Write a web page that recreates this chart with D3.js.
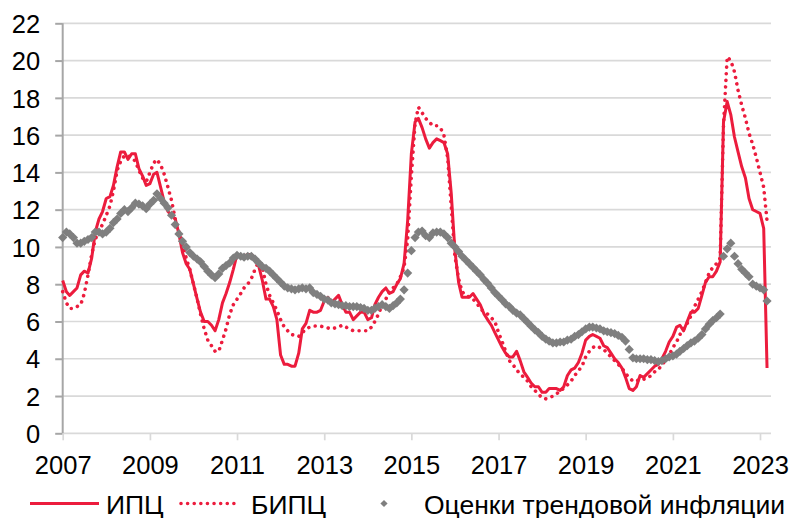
<!DOCTYPE html>
<html>
<head>
<meta charset="utf-8">
<script src="https://cdn.jsdelivr.net/npm/d3@7"></script>
<style>
  html, body { margin: 0; padding: 0; background: #fff; }
</style>
</head>
<body>
<div id="chart"></div>
<script>
// monthly values, Jan 2007 .. Mar 2023, % y/y
const firstMonth = new Date(2007, 0, 1);
const endMonth = new Date(2023, 3, 1);

const cpi = [
  8.2, 7.6, 7.4, 7.6, 7.8, 8.5, 8.7, 8.6, 9.4, 10.8, 11.5, 11.9,
  12.6, 12.7, 13.3, 14.3, 15.1, 15.1, 14.7, 15.0, 15.0, 14.2, 13.8, 13.3,
  13.4, 13.9, 14.0, 13.2, 12.4, 11.9, 11.7, 11.5, 10.7, 9.7, 9.1, 8.8,
  8.0, 7.2, 6.5, 6.0, 6.0, 5.8, 5.5, 6.1, 7.0, 7.5, 8.1, 8.8,
  9.6, 9.5, 9.5, 9.6, 9.6, 9.4, 9.0, 8.2, 7.2, 7.2, 6.8, 6.1,
  4.2, 3.7, 3.7, 3.6, 3.6, 4.3, 5.6, 5.9, 6.6, 6.5, 6.5, 6.6,
  7.1, 7.3, 7.0, 7.2, 7.4, 6.9, 6.5, 6.5, 6.1, 6.3, 6.5, 6.5,
  6.1, 6.2, 6.9, 7.3, 7.6, 7.8, 7.5, 7.6, 8.0, 8.3, 9.1, 11.4,
  15.0, 16.7, 16.9, 16.4, 15.8, 15.3, 15.6, 15.8, 15.7, 15.6, 15.0, 12.9,
  9.8, 8.1, 7.3, 7.3, 7.3, 7.5, 7.2, 6.9, 6.4, 6.1, 5.8, 5.4,
  5.0, 4.6, 4.3, 4.1, 4.1, 4.4, 3.9, 3.3, 3.0, 2.7, 2.5, 2.5,
  2.2, 2.2, 2.4, 2.4, 2.4, 2.3, 2.5, 3.1, 3.4, 3.5, 3.8, 4.3,
  5.0, 5.2, 5.3, 5.2, 5.1, 4.7, 4.6, 4.3, 4.0, 3.8, 3.5, 3.0,
  2.4, 2.3, 2.5, 3.1, 3.0, 3.2, 3.4, 3.6, 3.7, 4.0, 4.4, 4.9,
  5.2, 5.7, 5.8, 5.5, 6.0, 6.5, 6.5, 6.7, 7.4, 8.1, 8.4, 8.4,
  8.7, 9.2, 16.7, 17.8, 17.1, 15.9, 15.1, 14.3, 13.7, 12.6, 12.0, 11.9,
  11.8, 11.0, 3.5
];

const coreCpi = [
  7.6, 7.0, 6.7, 6.7, 6.8, 6.9, 7.5, 8.5, 9.6, 10.4, 10.9, 11.2,
  11.7, 12.2, 13.0, 14.1, 14.6, 14.9, 14.9, 14.8, 14.6, 14.1, 13.7, 13.5,
  14.0, 14.5, 14.7, 14.4, 13.9, 13.2, 12.5, 11.5, 10.8, 10.2, 9.4, 8.8,
  8.0, 7.2, 6.4, 5.6, 5.0, 4.7, 4.4, 4.4, 5.0, 5.6, 6.4, 6.9,
  7.2, 7.5, 7.8, 8.0, 8.3, 8.8, 9.2, 8.9, 8.0, 7.4, 7.0, 6.6,
  6.1, 5.7, 5.5, 5.3, 5.25, 5.2, 5.4, 5.6, 5.7, 5.75, 5.76, 5.75,
  5.7, 5.65, 5.6, 5.65, 5.7, 5.8, 5.7, 5.6, 5.5, 5.5, 5.5, 5.5,
  5.5, 5.7, 6.0, 6.4, 6.9, 7.2, 7.6, 7.8, 8.0, 8.4, 8.9, 10.4,
  13.8, 16.6, 17.5, 17.2, 16.9, 16.7, 16.5, 16.5, 16.4, 16.0, 14.8, 12.2,
  9.5, 8.3, 7.6, 7.4, 7.3, 7.2, 7.0, 6.7, 6.5, 6.4, 6.2, 6.0,
  5.4, 4.9, 4.4, 3.9, 3.7, 3.4, 3.2, 3.0, 2.8, 2.5, 2.3, 2.1,
  1.9, 1.85, 1.9, 2.0, 2.1, 2.3, 2.4, 2.6, 2.8, 3.1, 3.35, 3.6,
  4.1, 4.4, 4.6, 4.7, 4.6, 4.5, 4.3, 4.1, 3.9, 3.7, 3.5, 3.2,
  3.0, 2.8, 2.8, 2.9, 2.9, 2.95, 3.1, 3.3, 3.4, 3.7, 3.9, 4.2,
  4.6, 4.9, 5.3, 5.6, 5.9, 6.3, 6.8, 7.2, 7.6, 8.1, 8.6, 8.9,
  9.1, 9.4, 16.5, 20.2, 20.0, 19.4, 18.4, 17.6, 16.9, 16.1, 15.5, 14.8,
  14.0, 13.2, 11.4
];

const trendEstimate = [
  10.5, 10.8, 10.7, 10.5, 10.2, 10.2, 10.3, 10.4, 10.5, 10.8, 10.8, 10.7,
  10.8, 11.0, 11.3, 11.5, 11.8, 12.0, 11.9, 12.1, 12.35, 12.3, 12.2, 12.05,
  12.3, 12.5, 12.85, 12.6, 12.35, 12.1, 11.7, 11.2, 10.7, 10.3, 10.0, 9.7,
  9.5, 9.35, 9.2, 8.95, 8.7, 8.5, 8.35, 8.55, 8.85, 9.0, 9.15, 9.4,
  9.55, 9.5, 9.45, 9.5, 9.5, 9.35, 9.15, 8.95, 8.85, 8.7, 8.5, 8.3,
  8.1, 7.9, 7.8, 7.75, 7.7, 7.75, 7.8, 7.75, 7.8, 7.55, 7.45, 7.35,
  7.2, 7.15, 7.0, 6.95, 6.9, 6.85, 6.85, 6.8, 6.8, 6.8, 6.75, 6.7,
  6.6, 6.6, 6.7, 6.8, 6.9, 6.8, 6.7, 6.85, 7.0, 7.2, 7.7, 8.6,
  9.8, 10.5, 10.8, 10.85, 10.6, 10.5, 10.75, 10.8, 10.8, 10.7, 10.5, 10.2,
  10.0, 9.75, 9.5, 9.3, 9.1, 8.9, 8.7, 8.5, 8.25, 8.05, 7.8, 7.55,
  7.35, 7.15, 6.95, 6.8, 6.6, 6.45, 6.35, 6.15, 5.95, 5.75, 5.55, 5.4,
  5.2, 5.05, 4.95, 4.85, 4.85, 4.9, 4.9, 5.0, 5.05, 5.2, 5.3, 5.45,
  5.6, 5.7, 5.7, 5.65, 5.6, 5.5, 5.45, 5.4, 5.35, 5.25, 5.15, 4.95,
  4.5, 4.05, 4.0, 4.0, 4.0, 3.95, 3.95, 3.9, 3.85, 3.9, 4.0, 4.1,
  4.15, 4.25, 4.4, 4.55, 4.7, 4.85, 4.95, 5.1, 5.3, 5.6, 5.85, 6.05,
  6.2, 6.4, 9.5, 9.9, 10.2, 9.5, 9.1, 8.8, 8.6, 8.4, 8.0, 7.9,
  7.8, 7.7, 7.1
];

const tickYears = [2007, 2009, 2011, 2013, 2015, 2017, 2019, 2021, 2023];
const yTicks = [0, 2, 4, 6, 8, 10, 12, 14, 16, 18, 20, 22];
const seriesNames = ["ИПЦ", "БИПЦ", "Оценки трендовой инфляции"];

function drawInflation(containerId) {
    const width = 793;
    const height = 518;
    const plot = { left: 62.7, right: 771, top: 23.3, bottom: 433.3 };

    const colors = {
        red: "#ec1c3d",
        trend: "#7f7f7f",
        grid: "#d9d9d9",
        axis: "#a6a6a6",
        text: "#000"
    };
    const font = "'Liberation Sans', Arial, sans-serif";

    const svg = d3.select(containerId).append("svg")
        .attr("width", width)
        .attr("height", height)
        .style("display", "block")
        .style("background", "white")
        .style("font-family", font);

    const months = d3.timeMonth.range(firstMonth, endMonth);

    // 2007 -> 2023 mapped to the tick positions
    const x = d3.scaleTime()
        .domain([new Date(2007, 0, 1), new Date(2023, 0, 1)])
        .range([plot.left, 760]);

    const y = d3.scaleLinear()
        .domain([0, 22])
        .range([plot.bottom, plot.top]);

    // horizontal grid
    svg.append("g")
        .selectAll("line")
        .data(yTicks)
        .join("line")
        .attr("x1", plot.left).attr("x2", plot.right)
        .attr("y1", d => y(d)).attr("y2", d => y(d))
        .attr("stroke", colors.grid)
        .attr("stroke-width", 1.7);

    // y axis
    const yAxis = svg.append("g")
        .attr("transform", `translate(${plot.left},0)`)
        .call(d3.axisLeft(y).tickValues(yTicks).tickSize(7.5).tickPadding(15));
    yAxis.select(".domain")
        .attr("stroke", colors.axis).attr("stroke-width", 2)
        .attr("d", `M0,${plot.top}V${plot.bottom}`);
    yAxis.selectAll(".tick line").attr("stroke", colors.axis).attr("stroke-width", 2);
    yAxis.selectAll(".tick text")
        .attr("dy", "0.36em")
        .style("font-size", "25.5px")
        .style("font-family", font)
        .attr("fill", colors.text);

    // x axis
    const xAxis = svg.append("g")
        .attr("transform", `translate(0,${plot.bottom})`)
        .call(d3.axisBottom(x)
            .tickValues(tickYears.map(yr => new Date(yr, 0, 1)))
            .tickFormat(d3.timeFormat("%Y"))
            .tickSize(7)
            .tickPadding(16));
    xAxis.select(".domain").remove();
    xAxis.selectAll(".tick line").attr("stroke", colors.grid).attr("stroke-width", 1.7);
    xAxis.selectAll(".tick text")
        .attr("dy", "0.71em")
        .style("font-size", "25.5px")
        .style("font-family", font)
        .attr("fill", colors.text);

    const line = d3.line()
        .x((d, i) => x(months[i]))
        .y(d => y(d));

    // ИПЦ
    svg.append("path")
        .datum(cpi)
        .attr("fill", "none")
        .attr("stroke", colors.red)
        .attr("stroke-width", 3)
        .attr("stroke-linejoin", "round")
        .attr("d", line);

    // БИПЦ
    svg.append("path")
        .datum(coreCpi)
        .attr("fill", "none")
        .attr("stroke", colors.red)
        .attr("stroke-width", 3.6)
        .attr("stroke-linecap", "round")
        .attr("stroke-dasharray", "0.01 6.6")
        .attr("d", line);

    // trend estimates: diamond markers only
    const diamond = r => `M0,${-r}L${r},0L0,${r}L${-r},0Z`;
    svg.append("g")
        .selectAll("path")
        .data(trendEstimate)
        .join("path")
        .attr("transform", (d, i) => `translate(${x(months[i])},${y(d)})`)
        .attr("d", diamond(4.6))
        .attr("fill", colors.trend);

    // legend
    const legend = svg.append("g").attr("transform", "translate(0,503.5)");
    legend.append("line")
        .attr("x1", 30).attr("x2", 99)
        .attr("stroke", colors.red).attr("stroke-width", 3);
    legend.append("line")
        .attr("x1", 181).attr("x2", 237)
        .attr("stroke", colors.red).attr("stroke-width", 3.6)
        .attr("stroke-linecap", "round")
        .attr("stroke-dasharray", "0.01 6.6");
    legend.append("path")
        .attr("transform", "translate(384,0)")
        .attr("d", diamond(3.6))
        .attr("fill", colors.trend);

    legend.selectAll("text")
        .data(seriesNames)
        .join("text")
        .attr("x", (d, i) => [106, 251, 424][i])
        .attr("y", 10)
        .style("font-size", "26.5px")
        .attr("fill", colors.text)
        .text(d => d);
}

drawInflation("#chart");
</script>
</body>
</html>
